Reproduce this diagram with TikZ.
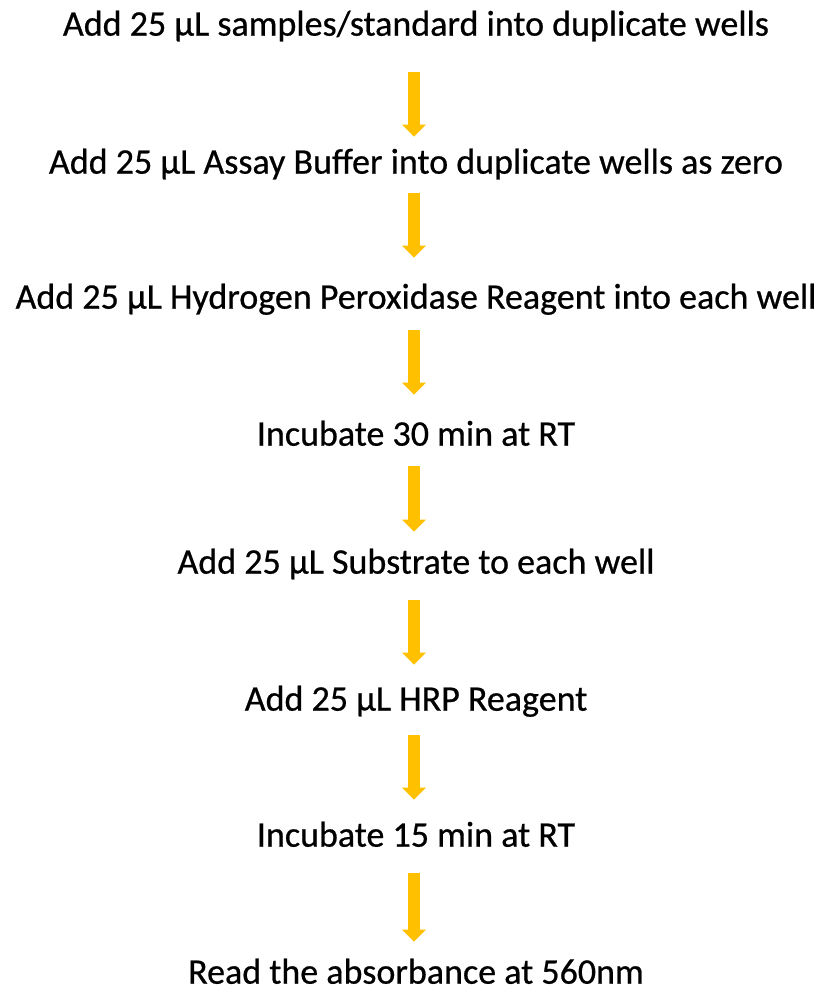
\documentclass[tikz,border=0pt]{standalone}
\usepackage{fontspec}
\setmainfont{Carlito}[FakeBold=0.6]
\usetikzlibrary{arrows.meta}

\definecolor{flowgold}{HTML}{FFC000}
\tikzset{
  stepnode/.style={font=\fontsize{27}{32}\selectfont,inner sep=0pt,
    text height=20pt,text depth=7pt},
  flow/.style={draw=flowgold,line width=9pt,
    -{Triangle[width=17.25pt,length=9pt]}}
}

\begin{document}
\begin{tikzpicture}[x=0.75pt,y=-0.75pt]
\useasboundingbox (0,0) rectangle (823,994);
\path
    (416,27) node [stepnode] (step1) {Add 25 µL samples/standard into duplicate wells}
    (416,165) node [stepnode] (step2) {Add 25 µL Assay Buffer into duplicate wells as zero}
    (416,300) node [stepnode] (step3) {Add 25 µL Hydrogen Peroxidase Reagent into each well}
    (416,437) node [stepnode] (step4) {Incubate 30 min at RT}
    (416,565) node [stepnode] (step5) {Add 25 µL Substrate to each well}
    (416,702) node [stepnode] (step6) {Add 25 µL HRP Reagent}
    (416,838) node [stepnode] (step7) {Incubate 15 min at RT}
    (416,975) node [stepnode] (step8) {Read the absorbance at 560nm};
% arrows between the steps
\foreach \from/\to/\gapa/\gapb in {step1/step2/20.25pt/7.5pt,
    step2/step3/7.5pt/18pt, step3/step4/9pt/18pt,
    step4/step5/8.25pt/11.25pt, step5/step6/12.75pt/14.25pt,
    step6/step7/11.25pt/15pt, step7/step8/12.75pt/11.25pt}
  \draw [flow,shorten <=\gapa,shorten >=\gapb] ([xshift=-1.5pt]\from.south) -- ([xshift=-1.5pt]\to.north);
\end{tikzpicture}
\end{document}
